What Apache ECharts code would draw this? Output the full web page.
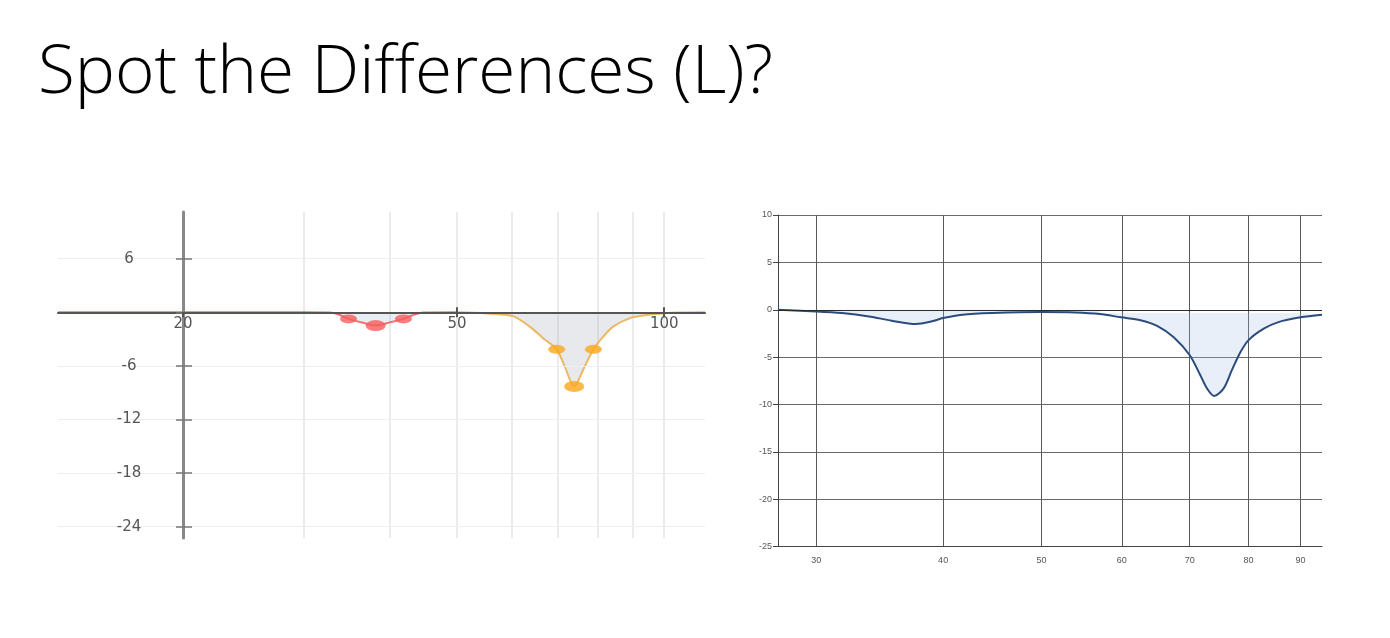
<!DOCTYPE html>
<html><head><meta charset="utf-8">
<script src="https://cdn.jsdelivr.net/npm/echarts@6/dist/echarts.min.js"></script>
<style>html,body{margin:0;padding:0;background:#fff;}#c{width:1390px;height:638px;}</style>
</head><body><div id="c"></div>
<script>
const titleText = 'Spot the Differences (L)?';

// ---- Left chart: EQ curve, log frequency axis ----
const leftXLabels = [20, 50, 100];
const leftXTickInside = [50, 100];
const leftXGrid = [30, 40, 50, 60, 70, 80, 90, 100];
const leftYTicks = [-24, -18, -12, -6, 0, 6];
const leftYLabels = [-24, -18, -12, -6, 6];
const leftCurve1 = [[13.17,0],[30,0],[32.7,-0.02],[33.8,-0.3],[34.8,-0.74],[36.4,-1.15],[38.1,-1.48],[39.9,-1.15],[41.8,-0.74],[43.2,-0.3],[44.7,-0.02],[50,0]];
const leftCurve2 = [[50,0],[53,-0.05],[57,-0.2],[60.4,-0.45],[63.8,-1.6],[66.7,-2.9],[69.8,-4.15],[71.8,-6.2],[74,-8.3],[76.5,-6.2],[78.9,-4.15],[81.6,-2.7],[84.3,-1.6],[89.2,-0.65],[94.3,-0.3],[100,-0.1],[105,-0.03],[114.6,0]];
const leftHandles1 = [[34.8,-0.74],[38.1,-1.48],[41.8,-0.74]];
const leftHandles2 = [[69.8,-4.15],[74,-8.3],[78.9,-4.15]];

// ---- Right chart ----
const rightXTicks = [30, 40, 50, 60, 70, 80, 90];
const rightCurve = [[27.5,0],[30,-0.17],[31.8,-0.35],[33.8,-0.7],[35.6,-1.15],[37.6,-1.5],[39,-1.22],[40,-0.87],[41.8,-0.52],[44.7,-0.35],[50,-0.24],[54,-0.28],[57.1,-0.45],[59.9,-0.8],[62.6,-1.1],[65,-1.7],[67.5,-2.9],[70,-4.8],[71.7,-6.9],[72.8,-8.3],[74,-9.1],[75.6,-8.3],[77,-6.4],[78.5,-4.5],[80,-3.2],[82.8,-2.0],[85.6,-1.3],[90,-0.8],[94.5,-0.52]];
const rightFillSplit = 57.1;
const rightFillTop1 = 0;
const rightFillTop2 = -0.35;

function measure(text, font) {
  const ctx = document.createElement('canvas').getContext('2d');
  ctx.font = font; return ctx.measureText(text).width;
}
const titleFont = '300 66px "Open Sans"';
const titleScale = 735 / measure(titleText, titleFont);

const chart = echarts.init(document.getElementById('c'));
const LX = {min: 13.17, max: 114.6};
const lblFont = {fontFamily: 'DejaVu Sans', fontSize: 15, color: '#555'};
const rFont = {fontFamily: 'Liberation Sans', fontSize: 9, color: '#555'};

chart.setOption({
  animation: false,
  backgroundColor: '#fff',
  graphic: [{
    type: 'text', x: 38, y: 41, scaleX: titleScale,
    style: {text: titleText, font: titleFont, fill: '#000', align: 'left', verticalAlign: 'top'}
  }],
  grid: [
    {left: 58, top: 212, width: 647, height: 326, outerBoundsMode: 'none'},
    {left: 778, top: 215, width: 544, height: 331.7, outerBoundsMode: 'none'}
  ],
  xAxis: [
    {gridIndex: 0, type: 'log', min: LX.min, max: LX.max, z: 3,
     axisLine: {onZero: true, lineStyle: {color: '#555', width: 2}},
     axisTick: {customValues: leftXLabels, length: 5, lineStyle: {color: '#555', width: 2}},
     axisLabel: {show: false},
     splitLine: {show: false}},
    {gridIndex: 0, type: 'log', min: LX.min, max: LX.max, z: 3, position: 'bottom',
     axisLine: {show: false, onZero: true},
     axisTick: {customValues: leftXTickInside, inside: true, length: 5, lineStyle: {color: '#555', width: 2}},
     axisLabel: {show: false}, splitLine: {show: false}},
    {gridIndex: 0, type: 'log', min: LX.min, max: LX.max, position: 'bottom',
     axisLine: {show: false, onZero: false}, axisTick: {show: false, customValues: leftXGrid},
     axisLabel: {show: false},
     splitLine: {show: true, lineStyle: {color: '#ebebeb', width: 2}}},
    {gridIndex: 1, type: 'log', min: 27.5, max: 94.5,
     axisLine: {onZero: false, lineStyle: {color: '#444', width: 1}},
     axisTick: {show: false, customValues: rightXTicks},
     axisLabel: Object.assign({customValues: rightXTicks, margin: 9}, rFont),
     splitLine: {show: true, lineStyle: {color: '#5a5a5a', width: 1}}},
    {gridIndex: 0, type: 'log', min: LX.min, max: LX.max, z: 3, position: 'bottom', offset: -225.7,
     axisLine: {show: false, onZero: false}, axisTick: {show: false, customValues: leftXLabels},
     axisLabel: Object.assign({customValues: leftXLabels, margin: 4}, lblFont),
     splitLine: {show: false}}
  ],
  yAxis: [
    {gridIndex: 0, type: 'value', min: -25.27, max: 11.23, offset: -125, z: 3, position: 'left',
     axisLine: {show: true, onZero: false, lineStyle: {color: '#888', width: 3}},
     axisTick: {show: true, customValues: leftYTicks, length: 7, lineStyle: {color: '#777', width: 1.5}},
     axisLabel: Object.assign({customValues: leftYLabels, align: 'center', margin: 54}, lblFont),
     splitLine: {show: true, lineStyle: {color: '#eeeeee', width: 1}}},
    {gridIndex: 0, type: 'value', min: -25.27, max: 11.23, offset: -125, z: 3, position: 'left',
     axisLine: {show: false, onZero: false},
     axisTick: {show: true, inside: true, customValues: leftYLabels, length: 9, lineStyle: {color: '#777', width: 1.5}},
     axisLabel: {show: false}, splitLine: {show: false}},
    {gridIndex: 1, type: 'value', min: -25, max: 10, interval: 5, position: 'left',
     axisLine: {show: true, onZero: false, lineStyle: {color: '#444'}},
     axisTick: {show: true, length: 5, lineStyle: {color: '#444'}},
     axisLabel: Object.assign({margin: 6}, rFont),
     splitLine: {show: true, lineStyle: {color: '#6a6a6a', width: 1}}}
  ],
  series: [
    {type: 'line', xAxisIndex: 0, yAxisIndex: 0, data: leftCurve1, smooth: 0.3, symbol: 'none', z: 2,
     lineStyle: {color: '#f07272', width: 2}, areaStyle: {color: 'rgba(140,180,210,0.3)', origin: 0}},
    {type: 'line', xAxisIndex: 0, yAxisIndex: 0, data: leftCurve2, smooth: 0.3, symbol: 'none', z: 2,
     lineStyle: {color: '#ecb862', width: 2}, areaStyle: {color: 'rgba(160,165,180,0.35)', origin: 0}},
    {type: 'scatter', xAxisIndex: 0, yAxisIndex: 0, data: leftHandles1, z: 5,
     symbol: 'circle', symbolSize: (v, p) => p.dataIndex === 1 ? [20, 11] : [17, 9],
     itemStyle: {color: '#f65c5c'}},
    {type: 'scatter', xAxisIndex: 0, yAxisIndex: 0, data: leftHandles2, z: 5,
     symbol: 'circle', symbolSize: (v, p) => p.dataIndex === 1 ? [20, 11] : [17, 9],
     itemStyle: {color: '#fba81a'}},
    {type: 'line', xAxisIndex: 3, yAxisIndex: 2, data: rightCurve.filter(p => p[0] <= rightFillSplit),
     smooth: 0.3, symbol: 'none', lineStyle: {width: 0}, z: 1,
     areaStyle: {color: 'rgba(160,190,225,0.35)', origin: rightFillTop1}},
    {type: 'line', xAxisIndex: 3, yAxisIndex: 2, data: rightCurve.filter(p => p[0] >= rightFillSplit),
     smooth: 0.3, symbol: 'none', lineStyle: {width: 0}, z: 1,
     areaStyle: {color: 'rgba(160,190,225,0.35)', origin: rightFillTop2}},
    {type: 'line', xAxisIndex: 3, yAxisIndex: 2, data: rightCurve, smooth: 0.3, symbol: 'none', z: 3,
     lineStyle: {color: '#2a4b7c', width: 2},
     markLine: {silent: true, symbol: 'none', label: {show: false},
       lineStyle: {color: '#2b2b2b', width: 1.2, type: 'solid'}, data: [{yAxis: 0}]}}
  ]
});
</script></body></html>
